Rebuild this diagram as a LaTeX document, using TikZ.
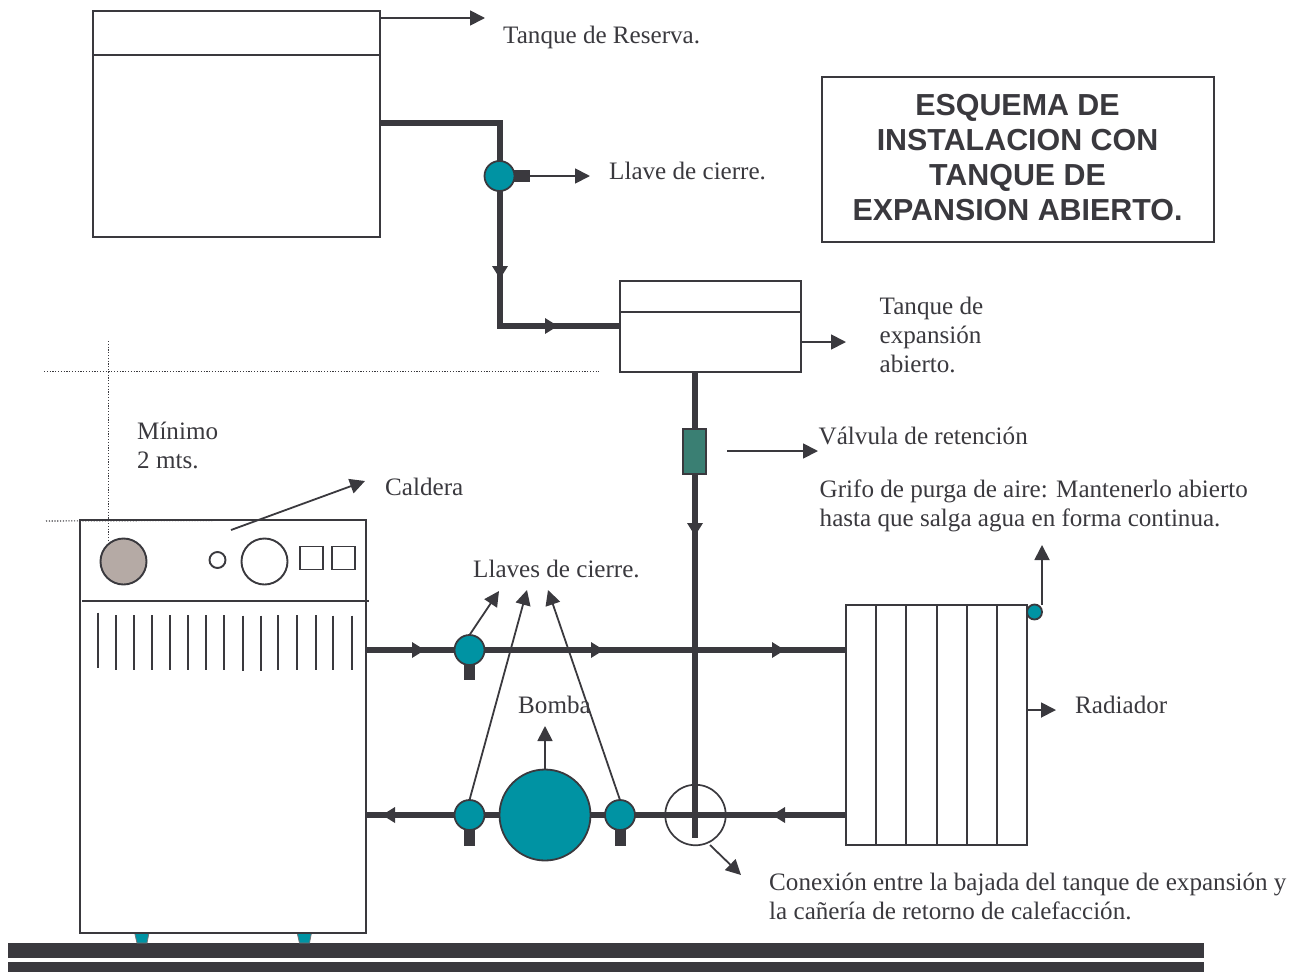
\documentclass[tikz,border=0pt]{standalone}
\usepackage{fontspec}
\setmainfont{Liberation Serif}
\newfontfamily\titlefont{Liberation Sans}
\usetikzlibrary{arrows.meta}
\definecolor{ink}{HTML}{3A393E}
\definecolor{teal}{HTML}{0093A3}
\definecolor{vgreen}{HTML}{3A7F73}
\definecolor{knob}{HTML}{B5AAA5}
\tikzset{
  x=1pt,y=-1pt,
  outline/.style={draw=ink,line width=2pt,fill=white,inner sep=0pt,outer sep=0pt},
  tankbox/.style={outline,rectangle,anchor=north west},
  thinline/.style={draw=ink,line width=2pt},
  leader/.style={draw=ink,line width=1.8pt,-{Triangle[length=15pt,width=15pt]},shorten >=0pt},
  pipe/.style={draw=ink,line width=5.5pt},
  pipeflow/.style={pipe,-{Triangle[length=13pt,width=15pt]}},
  valvebody/.style={circle,draw=ink,line width=1.8pt,fill=teal,minimum size=30pt,inner sep=0pt,outer sep=0pt},
  handle/.style={rectangle,fill=ink,inner sep=0pt,outer sep=0pt,draw=none},
  dots/.style={draw=ink,line width=1.1pt,dash pattern=on 1.2pt off 1.6pt},
  lbl/.style={text=ink,font=\fontsize{25.1}{29}\selectfont,align=left,anchor=west,inner sep=0pt},
  knobc/.style={circle,draw=ink,line width=1.9pt,inner sep=0pt,outer sep=0pt},
  sq/.style={rectangle,draw=ink,line width=1.9pt,fill=white,minimum size=23pt,inner sep=0pt,outer sep=0pt},
  slat/.style={draw=ink,line width=1.8pt},
  foot/.style={draw=ink!70,line width=0.8pt,fill=teal},
  floorbar/.style={fill=ink,draw=none},
}
\begin{document}
\begin{tikzpicture}
\useasboundingbox (0,0) rectangle (1300,972);
% floor
\fill[floorbar] (8,943) rectangle (1204,958);
\fill[floorbar] (8,962) rectangle (1204,972);
% feet
\draw[foot] (134,930) -- (149.5,930) -- (147,943) -- (137,943) -- cycle;
\draw[foot] (296.5,930) -- (312,930) -- (309.5,943) -- (299.5,943) -- cycle;
% tanks
\node[tankbox,minimum width=287pt,minimum height=226pt] (reserva) at (93,11) {};
\coordinate (resL) at (93,55); \coordinate (resR) at (380,55);
\draw[thinline] (resL) -- (resR);
\node[tankbox,minimum width=181pt,minimum height=91pt] (expansion) at (620,281) {};
\coordinate (expL) at (620,312); \coordinate (expR) at (801,312);
\draw[thinline] (expL) -- (expR);
% boiler
\node[tankbox,minimum width=286pt,minimum height=413pt] (caldera) at (80,520) {};
\coordinate (calL) at (82,600.5); \coordinate (calR) at (369,600.5);
\draw[thinline] (calL) -- (calR);
\node[knobc,fill=knob,minimum size=46pt] (k1) at (123.5,561.5) {};
\node[knobc,fill=white,minimum size=16pt] (k2) at (217.5,560) {};
\node[knobc,fill=white,minimum size=46pt] (k3) at (264.5,561.5) {};
\node[sq] (s1) at (311.5,558) {};
\node[sq] (s2) at (343.5,558) {};
\foreach \px/\pa/\pb in {97.7/612.5/667.5,116/615/669.5,134/615/669.5,152/615/669.5,170/615/669.5,188/615/669.5,206/615/669.5,224.3/615/669.5,243/615.5/670.5,261/615.5/670.5,278.3/615/669.5,296.7/615/669.5,316/615/669.5,333/615.5/670,352/615.5/670}
  \draw[slat] (\px,\pa) -- (\px,\pb);
% radiator
\node[tankbox,minimum width=181pt,minimum height=240pt] (radiador) at (846,605) {};
\foreach \px in {876,906.3,936.6,967,997}
  \draw[thinline] (\px,605) -- (\px,845);
% pipes upper
\coordinate (c1) at (380,123); \coordinate (c2) at (500,123);
\coordinate (c3) at (500,326); \coordinate (c4) at (620,326);
\coordinate (t1) at (500,279); \coordinate (t2) at (558,326);
\draw[pipe,line join=miter] (c1) -- (c2) -- (c3) -- (c4);
\draw[pipeflow] (c2) -- (t1);
\draw[pipeflow] (c3) -- (t2);
% vertical pipe
\coordinate (vtop) at (695,372); \coordinate (vend) at (695,838); \coordinate (t3) at (695,536);
\draw[pipe] (vtop) -- (vend);
\draw[pipeflow] (695,480) -- (t3);
% supply and return
\coordinate (sA) at (366,650); \coordinate (sB) at (846,650);
\coordinate (rA) at (846,815); \coordinate (rB) at (366,815);
\draw[pipe] (sA) -- (sB);
\draw[pipe] (rA) -- (rB);
\draw[pipeflow] (366,650) -- (425,650);
\draw[pipeflow] (500,650) -- (604,650);
\draw[pipeflow] (700,650) -- (785,650);
\draw[pipeflow] (840,815) -- (772,815);
\draw[pipeflow] (440,815) -- (382,815);
% valve top
\node[handle,minimum width=16pt,minimum height=12pt] (h0) at (522,176) {};
\node[valvebody] (v0) at (499.5,176) {};
% valve supply
\node[handle,minimum width=11pt,minimum height=16pt] (h1) at (469.5,672) {};
\node[valvebody] (v1) at (469.5,650) {};
\node[handle,minimum width=11pt,minimum height=16pt] (h2) at (469.5,838) {};
\node[valvebody] (v2) at (469.5,815) {};
\node[handle,minimum width=11pt,minimum height=16pt] (h3) at (620,838) {};
\node[valvebody] (v3) at (620,815) {};
\node[circle,draw=ink,line width=1.8pt,fill=teal,minimum size=91pt,inner sep=0pt,outer sep=0pt] (bomba) at (545,815) {};
\node[circle,draw=ink,line width=1.7pt,minimum size=60.5pt,inner sep=0pt,outer sep=0pt] (union) at (695.5,815) {};
\node[rectangle,draw=ink,line width=1.8pt,fill=vgreen,minimum width=23pt,minimum height=45pt,inner sep=0pt,outer sep=0pt] (retencion) at (694.5,451.5) {};
\node[circle,draw=ink,line width=1.8pt,fill=teal,minimum size=15pt,inner sep=0pt,outer sep=0pt] (purga) at (1034.5,612) {};
% dotted
\draw[dots] (44,371.5) -- (599,371.5);
\draw[dots] (108.5,341) -- (108.5,541);
\draw[dots] (46,521) -- (345,520);
% labels
\node[lbl] (lreserva) at (503,37.5) {Tanque de Reserva.};
\node[lbl] (lllave) at (609,171) {Llave de cierre.};
\node[lbl] (lexp) at (879.5,335) {Tanque de\\expansión\\abierto.};
\node[lbl] (lval) at (818.5,435.5) {Válvula de retención};
\node[lbl] (lgrifo) at (819.5,505.5) {Grifo de purga de aire: Mantenerlo abierto\\hasta que salga agua en forma continua.};
\node[lbl] (lmin) at (137,445) {Mínimo\\2 mts.};
\node[lbl] (lcal) at (385,487) {Caldera};
\node[lbl] (lllaves) at (473,569) {Llaves de cierre.};
\node[lbl] (lbomba) at (518,705) {Bomba};
\node[lbl] (lrad) at (1075,705) {Radiador};
\node[lbl] (lcon) at (769,896) {Conexión entre la bajada del tanque de expansión y\\la cañería de retorno de calefacción.};
\node[outline,rectangle,minimum width=392pt,minimum height=165pt] (titulo) at (1018,159.5) {};
\node[text=ink,font=\titlefont\bfseries\fontsize{30.4}{34.7}\selectfont,align=center,inner sep=0pt] (titulotxt) at (1017.5,157.5) {ESQUEMA DE\\INSTALACION CON\\TANQUE DE\\EXPANSION ABIERTO.};
% leaders
\coordinate (a1s) at (380,18); \coordinate (a1e) at (485,18);
\draw[leader] (a1s) -- (a1e);
\coordinate (a2e) at (590,176);
\draw[leader] (h0.east) -- (a2e);
\coordinate (a3s) at (801,342); \coordinate (a3e) at (846,342);
\draw[leader] (a3s) -- (a3e);
\coordinate (a4s) at (727,451); \coordinate (a4e) at (818,451);
\draw[leader] (a4s) -- (a4e);
\coordinate (a5s) at (231,530); \coordinate (a5e) at (365,481);
\draw[leader] (a5s) -- (a5e);
\coordinate (a6e) at (499,591);
\draw[leader] (v1.north) -- (a6e);
\coordinate (a7e) at (527,590);
\draw[leader] (v2.north) -- (a7e);
\coordinate (a8e) at (548,590);
\draw[leader] (v3.north) -- (a8e);
\coordinate (a9e) at (545,726);
\draw[leader] (bomba.north) -- (a9e);
\coordinate (a10s) at (710,845); \coordinate (a10e) at (741,875);
\draw[leader] (a10s) -- (a10e);
\coordinate (a11s) at (1042,605); \coordinate (a11e) at (1042,545);
\draw[leader] (a11s) -- (a11e);
\coordinate (a12s) at (1027,710); \coordinate (a12e) at (1056,710);
\draw[leader] (a12s) -- (a12e);
\end{tikzpicture}
\end{document}
